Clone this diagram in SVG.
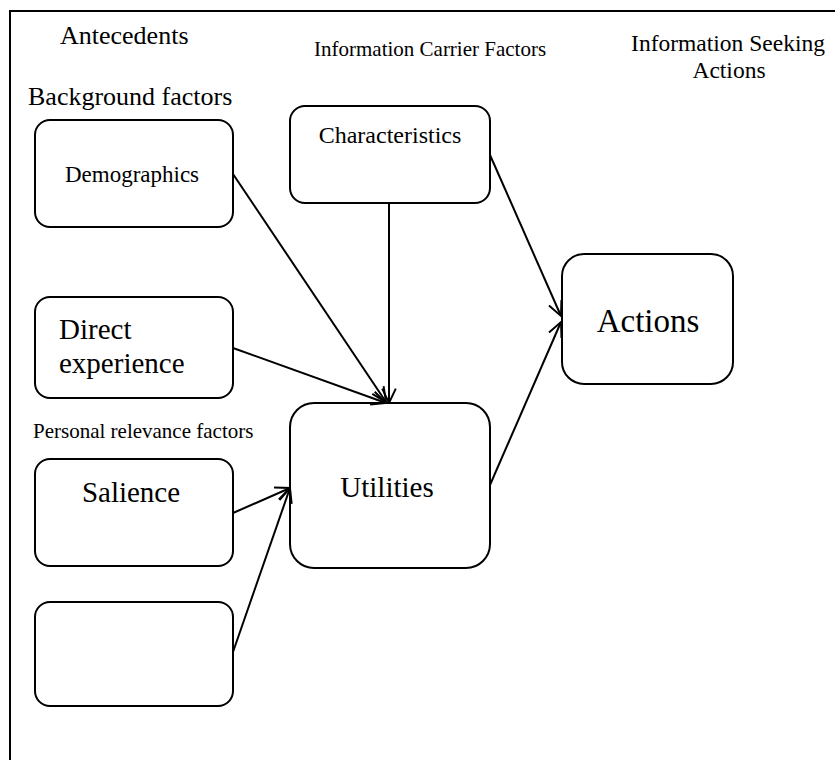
<svg xmlns="http://www.w3.org/2000/svg" width="835" height="760" viewBox="0 0 835 760">
<style>
.box{fill:#fff;stroke:#000;stroke-width:2}
.t{font-family:"Liberation Serif","Times New Roman",serif;fill:#000}
.c{stroke:#000;stroke-width:2;fill:none;marker-end:url(#arr)}
</style>
<defs>
<marker id="arr" viewBox="0 0 20 20" refX="19" refY="10" markerWidth="17" markerHeight="17" markerUnits="userSpaceOnUse" orient="auto">
<path d="M2,2 L19,10 L2,18" fill="none" stroke="#000" stroke-width="2.3"/>
</marker>
</defs>
<rect x="0" y="0" width="835" height="760" fill="#fff"/>
<path d="M10,762 L10,11 L837,11" fill="none" stroke="#000" stroke-width="2"/>
<g id="headings">
<text class="t" x="60" y="44" font-size="26">Antecedents</text>
<text class="t" x="28" y="105" font-size="26">Background factors</text>
<text class="t" x="314" y="56" font-size="21">Information Carrier Factors</text>
<text class="t" x="728" y="51" font-size="23.5" text-anchor="middle">Information Seeking</text>
<text class="t" x="729" y="78" font-size="23.5" text-anchor="middle">Actions</text>
<text class="t" x="33" y="438" font-size="21">Personal relevance factors</text>
</g>
<g id="demographics">
<rect class="box" x="35" y="120" width="198" height="107" rx="15"/>
<text class="t" x="132" y="182" font-size="23" text-anchor="middle">Demographics</text>
</g>
<g id="direct-experience">
<rect class="box" x="35" y="297" width="198" height="101" rx="15"/>
<text class="t" x="59" y="339" font-size="29">Direct</text>
<text class="t" x="59" y="373" font-size="29">experience</text>
</g>
<g id="salience">
<rect class="box" x="35" y="459" width="198" height="107" rx="15"/>
<text class="t" x="131" y="502" font-size="29" text-anchor="middle">Salience</text>
</g>
<g id="empty">
<rect class="box" x="35" y="602" width="198" height="104" rx="15"/>
</g>
<g id="characteristics">
<rect class="box" x="290" y="106" width="200" height="97" rx="15"/>
<text class="t" x="390" y="143" font-size="24" text-anchor="middle">Characteristics</text>
</g>
<g id="utilities">
<rect class="box" x="290" y="403" width="200" height="165" rx="24"/>
<text class="t" x="387" y="497" font-size="29" text-anchor="middle">Utilities</text>
</g>
<g id="actions">
<rect class="box" x="562" y="254" width="171" height="130" rx="22"/>
<text class="t" x="648" y="332" font-size="33" text-anchor="middle">Actions</text>
</g>
<g id="connectors">
<line class="c" x1="233" y1="174" x2="386" y2="402"/>
<line class="c" x1="233" y1="348" x2="386" y2="403"/>
<line class="c" x1="389" y1="203" x2="389" y2="403"/>
<line class="c" x1="233" y1="513" x2="290" y2="488"/>
<line class="c" x1="233" y1="652" x2="290" y2="488"/>
<line class="c" x1="490" y1="155" x2="561" y2="316"/>
<line class="c" x1="490" y1="485" x2="561" y2="322"/>
</g>
</svg>
